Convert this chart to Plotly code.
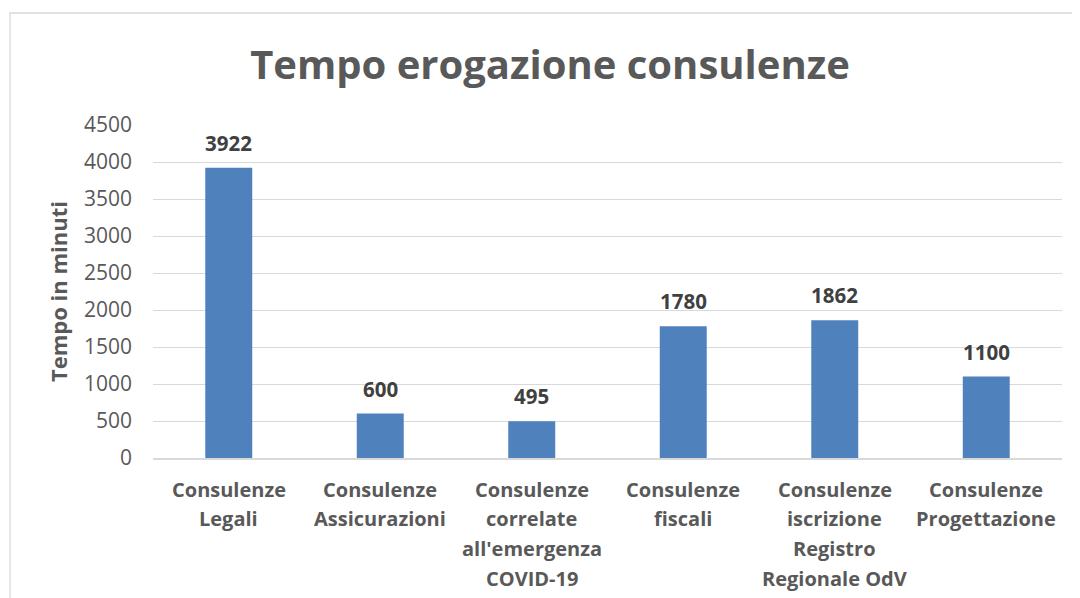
import plotly.graph_objects as go

categories = [
    "Consulenze Legali",
    "Consulenze Assicurazioni",
    "Consulenze correlate all'emergenza COVID-19",
    "Consulenze fiscali",
    "Consulenze iscrizione Registro Regionale OdV",
    "Consulenze Progettazione",
]
category_lines = [
    ["Consulenze", "Legali"],
    ["Consulenze", "Assicurazioni"],
    ["Consulenze", "correlate", "all'emergenza", "COVID-19"],
    ["Consulenze", "fiscali"],
    ["Consulenze", "iscrizione", "Registro", "Regionale OdV"],
    ["Consulenze", "Progettazione"],
]
values = [3922, 600, 495, 1780, 1862, 1100]
y_ticks = [0, 500, 1000, 1500, 2000, 2500, 3000, 3500, 4000, 4500]

FONT = "Open Sans"
GRAY = "#595959"

# page has an 8px body margin; figure is drawn at (8, 8)
OFF = 8
W, H = 1080 - OFF, 598 - OFF
L, R, T, B = 153 - OFF, 18, 125 - OFF, 140
pw = W - L - R
ph = H - T - B


def px_x(x):
    return (x - OFF - L) / pw


def px_y(y):
    return (H - B - (y - OFF)) / ph


fig = go.Figure()
fig.add_trace(go.Bar(
    x=categories,
    y=values,
    marker=dict(color="#4F81BD", line=dict(width=0)),
    width=0.31,
    cliponaxis=False,
    hoverinfo="x+y",
))

# data labels
for c, v in zip(categories, values):
    fig.add_annotation(
        x=c, y=v, xref="x", yref="y",
        text=f"<b>{v}</b>", showarrow=False,
        font=dict(family=FONT, size=20.5, color="#404040"),
        yanchor="middle", yshift=25,
    )

# category labels (one annotation per line for Excel-like line spacing)
for c, lines in zip(categories, category_lines):
    for i, line in enumerate(lines):
        fig.add_annotation(
            x=c, y=0, xref="x", yref="paper",
            text=f"<b>{line}</b>", showarrow=False,
            font=dict(family=FONT, size=20, color=GRAY),
            yanchor="middle", yshift=-(31 + 29.7 * i),
        )

fig.add_shape(
    type="rect", xref="paper", yref="paper",
    x0=px_x(10), x1=px_x(1090), y0=px_y(13), y1=px_y(610),
    line=dict(color="#d9d9d9", width=1.3), fillcolor="rgba(0,0,0,0)",
    layer="below",
)

fig.update_layout(
    width=W, height=H,
    margin=dict(l=L, r=R, t=T, b=B),
    paper_bgcolor="white",
    plot_bgcolor="white",
    showlegend=False,
    title=dict(
        text="<b>Tempo erogazione consulenze</b>",
        font=dict(family=FONT, size=40, color=GRAY),
        x=(550 - OFF) / W, xanchor="center", xref="container",
        y=1 - (65 - OFF) / H, yanchor="middle", yref="container",
    ),
    xaxis=dict(
        showticklabels=False,
        showline=True, linecolor="#d9d9d9", linewidth=1.5,
        ticks="", showgrid=False,
    ),
    yaxis=dict(
        range=[0, 4500],
        tickvals=y_ticks,
        tickfont=dict(family=FONT, size=21, color=GRAY),
        showgrid=True, gridcolor="#d9d9d9", gridwidth=1.3,
        zeroline=False,
        ticks="",
        ticklabelstandoff=20,
        title=dict(text="<b>Tempo in minuti</b>",
                   font=dict(family=FONT, size=22, color=GRAY),
                   standoff=10),
    ),
)

fig.write_html("out.html")
